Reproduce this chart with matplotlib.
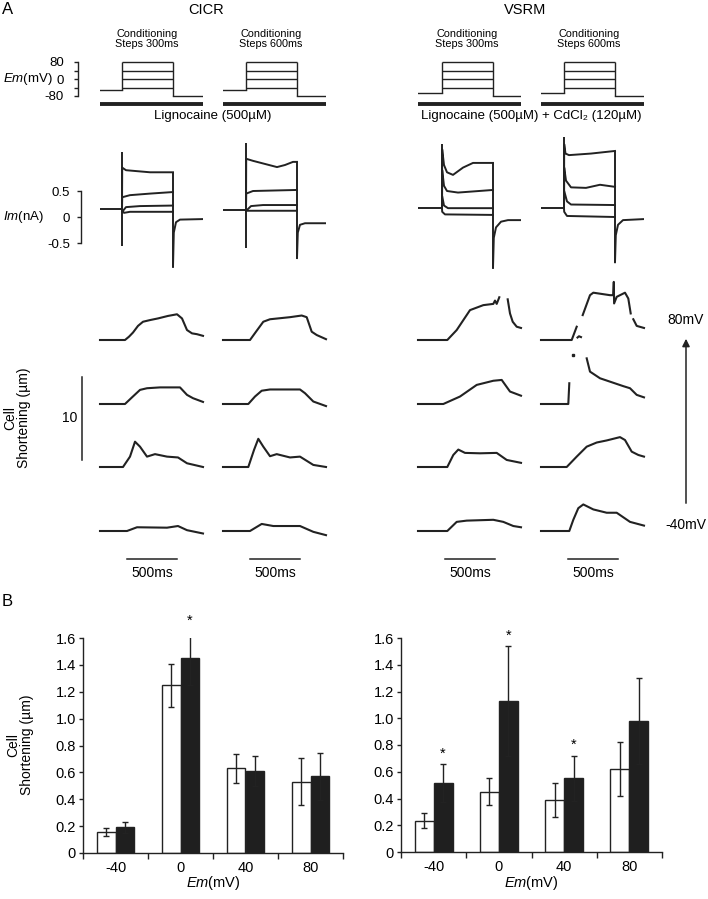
import numpy as np
import matplotlib.pyplot as plt

plt.rcParams['font.family'] = ['Liberation Sans', 'DejaVu Sans']
plt.rcParams['mathtext.fontset'] = 'custom'
plt.rcParams['mathtext.rm'] = 'Liberation Sans'
plt.rcParams['mathtext.it'] = 'Liberation Sans:italic'

INK = '#222222'

# ---------------- data ----------------
col_titles = ['Conditioning\nSteps 300ms', 'Conditioning\nSteps 600ms',
              'Conditioning\nSteps 300ms', 'Conditioning\nSteps 600ms']

# voltage protocol (mV, ms)
step_mv = [80, 40, 0, -40]
hold_mv = [-50, -50, -65, -65]
post_mv = -80
t_on = [220, 230, 240, 230]
t_off = [730, 740, 750, 740]
T_END = 1030

# membrane current (nA): hold level, capacitive spike, step traces, tail
im_hold = [0.15, 0.13, 0.17, 0.17]
im_on_spike = [(-0.56, 1.25), (-0.60, 1.42), (0.17, 1.40), (0.17, 1.54)]

im_cicr300 = [[(222, 0.95), (260, 0.90), (500, 0.86), (730, 0.86)],
              [(222, 0.38), (300, 0.42), (500, 0.45), (730, 0.48)],
              [(222, 0.10), (260, 0.19), (400, 0.21), (730, 0.22)],
              [(222, 0.13), (240, 0.08), (300, 0.10), (730, 0.10)]]
im_cicr600 = [[(232, 1.12), (300, 1.08), (420, 1.02), (540, 0.96), (620, 1.00), (700, 1.06), (740, 1.06)],
              [(232, 0.45), (300, 0.50), (740, 0.52)],
              [(232, 0.12), (280, 0.21), (400, 0.23), (740, 0.23)],
              [(232, 0.12), (740, 0.12)]]
im_vsrm300 = [[(242, 1.30), (260, 1.00), (290, 0.86), (350, 0.81), (450, 0.95), (550, 1.04), (750, 1.04)],
              [(242, 0.90), (260, 0.60), (290, 0.50), (400, 0.47), (750, 0.52)],
              [(242, 0.40), (260, 0.22), (300, 0.17), (750, 0.17)],
              [(242, 0.10), (270, 0.05), (750, 0.04)]]
im_vsrm600 = [[(232, 1.40), (245, 1.22), (280, 1.19), (500, 1.22), (740, 1.27)],
              [(232, 0.95), (250, 0.70), (300, 0.57), (450, 0.56), (590, 0.62), (740, 0.58)],
              [(232, 0.50), (260, 0.30), (300, 0.24), (740, 0.23)],
              [(232, 0.10), (260, 0.02), (740, 0.00)]]

im_tails = [[(730, -0.96), (738, -0.30), (760, -0.10), (800, -0.05), (1030, -0.04)],
            [(740, -0.79), (748, -0.30), (770, -0.15), (820, -0.12), (1030, -0.12)],
            [(750, -0.98), (758, -0.40), (780, -0.20), (830, -0.09), (900, -0.06), (1030, -0.06)],
            [(740, -0.87), (748, -0.35), (770, -0.15), (820, -0.06), (1030, -0.04)]]

# cell shortening (um) vs time (ms); rows = 80, 40, 0, -40 mV; segments split by gaps
sh_cicr300 = [
    [[(0, 0), (250, 0), (290, 0.4), (330, 0.9), (380, 1.7), (430, 2.2), (500, 2.4), (580, 2.6),
      (680, 2.9), (770, 3.1), (820, 2.6), (870, 1.2), (920, 0.8), (970, 0.7), (1030, 0.5)]],
    [[(0, 0), (250, 0), (320, 0.8), (400, 1.7), (470, 1.9), (600, 2.0), (800, 2.0),
      (870, 1.1), (930, 0.7), (1030, 0.25)]],
    [[(0, 0), (230, 0), (300, 1.25), (350, 3.05), (400, 2.45), (470, 1.25), (550, 1.55),
      (670, 1.25), (780, 1.15), (870, 0.45), (1030, 0.0)]],
    [[(0, 0), (270, 0), (370, 0.45), (670, 0.4), (780, 0.6), (870, 0.1), (1030, -0.3)]],
]
sh_cicr600 = [
    [[(0, 0), (270, 0), (330, 1.0), (403, 2.2), (470, 2.5), (670, 2.75), (787, 2.95),
      (837, 2.75), (887, 1.0), (937, 0.6), (1030, 0.1)]],
    [[(0, 0), (253, 0), (320, 0.9), (387, 1.6), (470, 1.75), (770, 1.75), (820, 1.3),
      (903, 0.3), (1030, -0.25)]],
    [[(0, 0), (253, 0), (310, 2.05), (353, 3.4), (403, 2.45), (470, 1.3), (537, 1.55),
      (670, 1.15), (770, 1.25), (903, 0.25), (1030, 0.0)]],
    [[(0, 0), (270, 0), (387, 0.85), (503, 0.6), (770, 0.6), (903, -0.1), (1030, -0.5)]],
]
sh_vsrm300 = [
    [[(0, 0), (293, 0), (387, 1.2), (520, 3.6), (653, 4.2), (753, 4.35), (770, 4.75),
      (787, 4.35), (813, 5.15)],
     [(897, 4.9), (920, 3.2), (947, 2.2), (987, 1.6), (1030, 1.45)]],
    [[(0, 0), (253, 0), (420, 0.9), (587, 2.3), (753, 2.8), (837, 2.9), (920, 1.5), (1030, 1.0)]],
    [[(0, 0), (293, 0), (353, 1.45), (403, 2.1), (470, 1.7), (620, 1.65), (787, 1.7),
      (887, 0.85), (1030, 0.5)]],
    [[(0, 0), (293, 0), (387, 1.1), (487, 1.25), (753, 1.35), (853, 1.1), (953, 0.6), (1030, 0.45)]],
]
sh_vsrm600 = [
    [[(0, 0), (307, 0), (357, 1.6)],
     [(365, 0.3), (380, 0.45), (400, 0.35)],
     [(417, 3.0), (490, 5.4), (523, 5.7), (690, 5.4), (722, 5.4), (728, 7.0), (731, 4.4),
      (757, 5.2), (840, 5.7), (873, 5.0), (897, 3.2)],
     [(923, 2.5), (957, 1.7), (1030, 1.45)]],
    [[(0, 0), (273, 0), (283, 2.5)],
     [(317, 5.9)],
     [(457, 5.5), (490, 3.9), (590, 3.1), (823, 2.15), (890, 1.9), (957, 1.1), (1030, 0.8)]],
    [[(0, 0), (257, 0), (357, 1.25), (457, 2.45), (557, 2.95), (657, 3.2), (790, 3.6),
      (840, 3.25), (907, 1.85), (973, 1.45), (1030, 1.25)]],
    [[(0, 0), (283, 0), (323, 1.35), (373, 2.75), (423, 3.2), (523, 2.6), (657, 2.2),
      (757, 2.2), (890, 1.1), (1030, 0.65)]],
]

# panel B: mean cell shortening (um) +/- s.e.m.
em_labels = ['-40', '0', '40', '80']
cicr_ctrl = [0.155, 1.25, 0.63, 0.53]
cicr_ctrl_err = [0.03, 0.16, 0.11, 0.175]
cicr_drug = [0.19, 1.45, 0.61, 0.57]
cicr_drug_err = [0.04, 0.20, 0.115, 0.175]
cicr_star = [False, True, False, False]
vsrm_ctrl = [0.235, 0.45, 0.39, 0.62]
vsrm_ctrl_err = [0.055, 0.10, 0.125, 0.20]
vsrm_drug = [0.515, 1.13, 0.55, 0.98]
vsrm_drug_err = [0.14, 0.41, 0.17, 0.32]
vsrm_star = [True, True, True, False]

# ---------------- layout (pixels) ----------------
W, H = 708, 899
col_left = [100, 223, 418, 541]
PX_PER_MS = 0.1
COL_W = T_END * PX_PER_MS
PROTO_ZERO, PX_PER_MV = 79, 17 / 80
IM_ZERO, PX_PER_NA = 217, 52
PX_PER_UM = 8.3
row_base = [340, 404, 467, 531]

fig = plt.figure(figsize=(W / 100, H / 100), dpi=100)
ov = fig.add_axes([0, 0, 1, 1])
ov.set_xlim(0, W)
ov.set_ylim(H, 0)
ov.axis('off')


def px_axes(left, top, right, bottom):
    return fig.add_axes([left / W, 1 - bottom / H, (right - left) / W, (bottom - top) / H])


def trace_axes(left, top, bottom, zero_px, scale):
    ax = px_axes(left, top, left + COL_W, bottom)
    ax.set_xlim(0, T_END)
    ax.set_ylim((zero_px - bottom) / scale, (zero_px - top) / scale)
    ax.axis('off')
    return ax


def bracket(ax, ticks, labels, gap_px, pad, size):
    ax.axis('on')
    ax.patch.set_visible(False)
    for s in ['top', 'right', 'bottom']:
        ax.spines[s].set_visible(False)
    ax.spines['left'].set_position(('outward', gap_px * 0.72))
    ax.spines['left'].set_bounds(ticks[0], ticks[-1])
    ax.spines['left'].set_linewidth(1.0)
    ax.spines['left'].set_color(INK)
    ax.set_xticks([])
    ax.set_yticks(ticks, labels)
    ax.tick_params(axis='y', length=3, width=1.0, pad=pad, labelsize=size, color=INK)


# ---- protocols ----
for c, x0 in enumerate(col_left):
    ax = trace_axes(x0, 55, 100, PROTO_ZERO, PX_PER_MV)
    kw = dict(color=INK, lw=1.0)
    ax.plot([0, t_on[c]], [hold_mv[c], hold_mv[c]], **kw)
    ax.vlines(t_on[c], hold_mv[c], max(step_mv), **kw)
    ax.hlines(step_mv, t_on[c], t_off[c], **kw)
    ax.vlines(t_off[c], post_mv, max(step_mv), **kw)
    ax.plot([t_off[c], T_END], [post_mv, post_mv], **kw)
    if c == 0:
        bracket(ax, [-80, -40, 0, 40, 80], ['-80', '', '0', '', '80'], 22, 7, 9.5)
    ov.plot([x0, x0 + COL_W], [103.5, 103.5], color=INK, lw=2.8, solid_capstyle='butt')

# ---- membrane currents ----
for c, (x0, traces) in enumerate(zip(col_left, [im_cicr300, im_cicr600, im_vsrm300, im_vsrm600])):
    ax = trace_axes(x0, 135, 275, IM_ZERO, PX_PER_NA)
    kw = dict(color=INK, lw=1.4)
    ax.plot([0, t_on[c]], [im_hold[c], im_hold[c]], **kw)
    ax.vlines(t_on[c], *im_on_spike[c], **kw)
    for tr in traces:
        t, v = zip(*tr)
        ax.plot([t_on[c]] + list(t), [im_hold[c]] + list(v), **kw)
    t, v = zip(*im_tails[c])
    ax.vlines(t_off[c], min(v), max(tr[-1][1] for tr in traces), **kw)
    ax.plot(t, v, **kw)
    if c == 0:
        bracket(ax, [-0.5, 0, 0.5], ['-0.5', '0', '0.5'], 19, 5, 9.5)

# ---- cell shortening ----
for x0, rows in zip(col_left, [sh_cicr300, sh_cicr600, sh_vsrm300, sh_vsrm600]):
    for base, segs in zip(row_base, rows):
        ax = trace_axes(x0, base - 62, base + 10, base, PX_PER_UM)
        for seg in segs:
            t, v = zip(*seg)
            if len(seg) == 1:
                ax.plot(t, v, 's', color=INK, ms=1.6, clip_on=False)
            else:
                ax.plot(t, v, color=INK, lw=1.5, clip_on=False)

# scale bars and annotations of panel A
ov.plot([82, 82], [460, 460 - 10 * PX_PER_UM], color=INK, lw=1.1)
ov.text(70, 418, '10', fontsize=10, ha='center', va='center')
ov.text(17, 418, 'Cell\nShortening (µm)', fontsize=10, rotation=90,
        ha='center', va='center', linespacing=1.0)
for x0 in col_left:
    xs = x0 + 270 * PX_PER_MS
    ov.plot([xs, xs + 500 * PX_PER_MS], [559, 559], color=INK, lw=1.1)
    ov.text(xs + 250 * PX_PER_MS, 573, '500ms', fontsize=10, ha='center', va='center')
ov.annotate('', xy=(686, 336), xytext=(686, 506),
            arrowprops=dict(arrowstyle='-|>', color=INK, lw=1.1, mutation_scale=11))
ov.text(686, 320, '80mV', fontsize=10, ha='center', va='center')
ov.text(686, 525, '-40mV', fontsize=10, ha='center', va='center')

ov.text(2, 9, 'A', fontsize=12, ha='left', va='center')
ov.text(206, 10, 'CICR', fontsize=10.5, ha='center', va='center')
ov.text(525, 10, 'VSRM', fontsize=10.5, ha='center', va='center')
for cx, title in zip([147, 271, 467, 589], col_titles):
    ov.text(cx, 39, title, fontsize=7.8, ha='center', va='center', linespacing=1.0)
ov.text(3, 79, r'$\mathit{Em}$(mV)', fontsize=9.5, ha='left', va='center')
ov.text(3, 217, r'$\mathit{Im}$(nA)', fontsize=9.5, ha='left', va='center')
ov.text(213, 116, 'Lignocaine (500µM)', fontsize=9.5, ha='center', va='center')
ov.text(531, 116, 'Lignocaine (500µM) + CdCl₂ (120µM)', fontsize=9.5, ha='center', va='center')

# ---------------- panel B ----------------
ov.text(2, 601, 'B', fontsize=12, ha='left', va='center')
ov.text(20, 745, 'Cell\nShortening (µm)', fontsize=10, rotation=90,
        ha='center', va='center', linespacing=1.0)

x = np.arange(len(em_labels))
bw = 0.29
for (l, t, r, b), ctrl, ce, drug, de, star in [
        ((83, 638, 343, 853), cicr_ctrl, cicr_ctrl_err, cicr_drug, cicr_drug_err, cicr_star),
        ((401, 638, 662, 852), vsrm_ctrl, vsrm_ctrl_err, vsrm_drug, vsrm_drug_err, vsrm_star)]:
    ax = px_axes(l, t, r, b)
    ebar = dict(ecolor=INK, elinewidth=1.0, capsize=2, capthick=1.0)
    ax.bar(x - bw / 2, ctrl, bw, yerr=ce, color='white', edgecolor=INK, linewidth=1.0,
           error_kw=ebar)
    ax.bar(x + bw / 2, drug, bw, yerr=de, color='#1f1f1f', edgecolor=INK, linewidth=1.0,
           error_kw=ebar)
    for i, s in enumerate(star):
        if s:
            ax.text(x[i] + bw / 2, drug[i] + de[i] + 0.08, '*', fontsize=10.5,
                    ha='center', va='center', clip_on=False)
    ax.set_xlim(-0.5, len(em_labels) - 0.5)
    ax.set_ylim(0, 1.6)
    ax.set_yticks(np.arange(0, 1.61, 0.2),
                  ['0', '0.2', '0.4', '0.6', '0.8', '1.0', '1.2', '1.4', '1.6'])
    ax.set_xticks(np.arange(-0.5, len(em_labels)), [''] * (len(em_labels) + 1))
    ax.set_xticks(x, em_labels, minor=True)
    ax.tick_params(axis='x', which='major', length=4, width=1.0, direction='out', color=INK)
    ax.tick_params(axis='x', which='minor', length=0, pad=6, labelsize=10.5)
    ax.tick_params(axis='y', length=3, width=1.0, direction='out', pad=2, labelsize=10.5, color=INK)
    for s in ['top', 'right']:
        ax.spines[s].set_visible(False)
    for s in ['left', 'bottom']:
        ax.spines[s].set_linewidth(1.0)
        ax.spines[s].set_color(INK)
    ax.patch.set_visible(False)
    ov.text((l + r) / 2, 883, r'$\mathit{Em}$(mV)', fontsize=10.5, ha='center', va='center')

fig.savefig('out.png', dpi=100)
